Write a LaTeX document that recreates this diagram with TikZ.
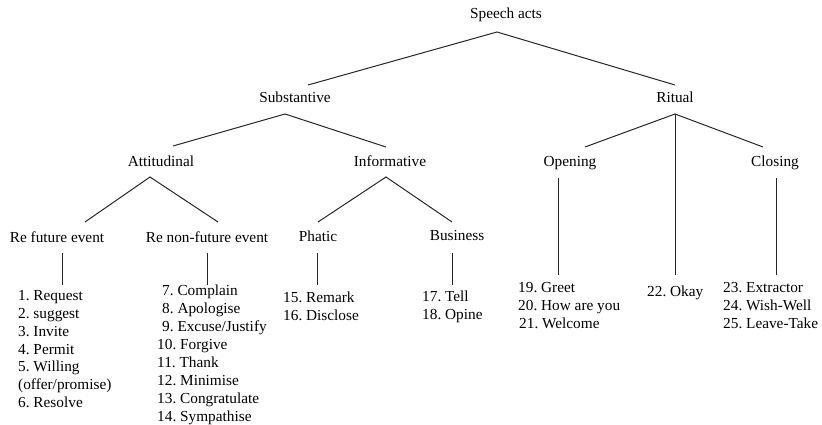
\documentclass[tikz,border=0pt]{standalone}
\usepackage{fontspec}
\setmainfont{Liberation Serif}
\frenchspacing
\begin{document}
\begin{tikzpicture}[x=1pt,y=-1pt,
  lbl/.style={inner sep=0pt,anchor=base,font=\fontsize{15.3}{17.8}\selectfont},
  lst/.style={inner sep=0pt,anchor=north west,align=left,font=\fontsize{15.3}{17.9}\selectfont},
  edge/.style={line width=1pt,draw=black!85}]
\useasboundingbox (0,0) rectangle (822,425);
% labels
\node[lbl] (sa) at (506,19) {Speech acts};
\node[lbl] (sub) at (295,103) {Substantive};
\node[lbl] (rit) at (675,103) {Ritual};
\node[lbl] (att) at (161,167) {Attitudinal};
\node[lbl] (inf) at (390,167) {Informative};
\node[lbl] (ope) at (570,167) {Opening};
\node[lbl] (clo) at (775,167) {Closing};
\node[lbl] (rfe) at (57,242) {Re future event};
\node[lbl] (rnf) at (207,242) {Re non-future event};
\node[lbl] (pha) at (318,241) {Phatic};
\node[lbl] (bus) at (457,240) {Business};
% lists
\node[lst] (l1) at (18,290) {1. Request\\2. suggest\\3. Invite\\4. Permit\\5. Willing\\(offer/promise)\\6. Resolve};
\node[lst] (l2) at (157,285) {\hspace{5pt}7. Complain\\\hspace{5pt}8. Apologise\\\hspace{5pt}9. Excuse/Justify\\10. Forgive\\11. Thank\\12. Minimise\\13. Congratulate\\14. Sympathise};
\node[lst] (l3) at (283,292) {15. Remark\\16. Disclose};
\node[lst] (l4) at (422,291) {17. Tell\\18. Opine};
\node[lst] (l5) at (518,282) {19. Greet\\20. How are you\\\hspace{1pt}21. Welcome};
\node[lst] (l6) at (647,286) {22. Okay};
\node[lst] (l7) at (723,282) {23. Extractor\\24. Wish-Well\\25. Leave-Take};
% connector ends
\coordinate (sa-b) at (497,32);
\coordinate (sub-t) at (308,85);
\coordinate (rit-t) at (675,85);
\coordinate (sub-b) at (285,114);
\coordinate (att-t) at (173,146);
\coordinate (inf-t) at (386,147);
\coordinate (rit-b) at (675,114);
\coordinate (ope-t) at (585,147);
\coordinate (okay-t) at (675,275);
\coordinate (clo-t) at (763,147);
\coordinate (att-b) at (150,177);
\coordinate (rfe-t) at (85,222);
\coordinate (rnf-t) at (218,222);
\coordinate (inf-b) at (386,177);
\coordinate (pha-t) at (318,222);
\coordinate (bus-t) at (452,222);
\coordinate (rfe-b) at (62,253);
\coordinate (l1-t) at (62,285);
\coordinate (rnf-b) at (207,253);
\coordinate (l2-t) at (207,285);
\coordinate (pha-b) at (317,253);
\coordinate (l3-t) at (317,285);
\coordinate (bus-b) at (452,253);
\coordinate (l4-t) at (452,285);
\coordinate (ope-b) at (558,178);
\coordinate (l5-t) at (558,275);
\coordinate (clo-b) at (776,178);
\coordinate (l7-t) at (776,275);
% connectors
\draw[edge] (sub-t) -- (sa-b) -- (rit-t);
\draw[edge] (att-t) -- (sub-b) -- (inf-t);
\draw[edge] (ope-t) -- (rit-b) -- (clo-t);
\draw[edge] (rit-b) -- (okay-t);
\draw[edge] (rfe-t) -- (att-b) -- (rnf-t);
\draw[edge] (pha-t) -- (inf-b) -- (bus-t);
\draw[edge] (rfe-b) -- (l1-t);
\draw[edge] (rnf-b) -- (l2-t);
\draw[edge] (pha-b) -- (l3-t);
\draw[edge] (bus-b) -- (l4-t);
\draw[edge] (ope-b) -- (l5-t);
\draw[edge] (clo-b) -- (l7-t);
\end{tikzpicture}
\end{document}
